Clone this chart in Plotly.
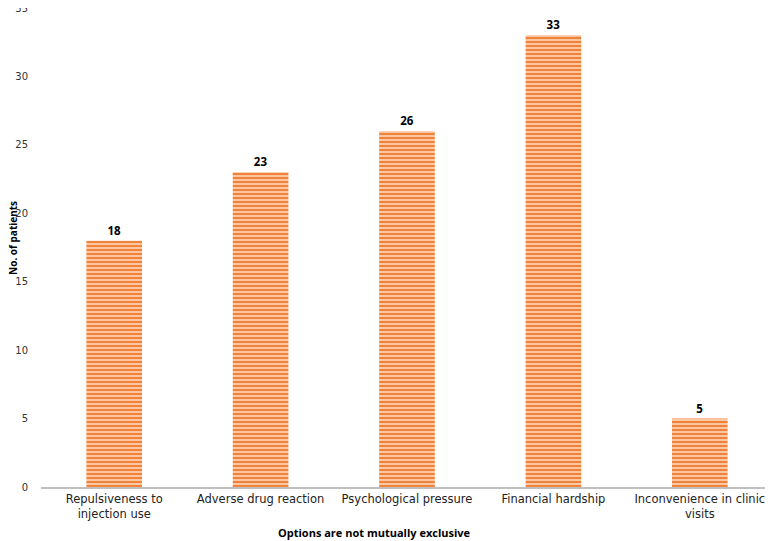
import plotly.graph_objects as go

categories = ["Repulsiveness to<br>injection use", "Adverse drug reaction",
              "Psychological pressure", "Financial hardship",
              "Inconvenience in clinic<br>visits"]
patients = [18, 23, 26, 33, 5]
y_ticks = [0, 5, 10, 15, 20, 25, 30, 35]
x_title = "Options are not mutually exclusive"
y_title = "No. of patients"

fig = go.Figure()
fig.add_trace(go.Bar(
    x=list(range(len(categories))), y=patients,
    width=0.38,
    marker=dict(color="#FCCFAD", line=dict(width=0),
                pattern=dict(shape="-", fgcolor="#F0823A", bgcolor="#FCCFAD",
                             size=4, solidity=0.55, fillmode="replace")),
    text=[str(v) for v in patients], textposition="outside",
    textfont=dict(family="Open Sans", size=11.5, color="black", weight="bold"),
    cliponaxis=False,
))

title_font = dict(size=11, family="Open Sans", weight="bold", color="black")
fig.add_annotation(text=x_title, xref="paper", yref="paper", x=0.456, y=0,
                   yanchor="middle", yshift=-45, showarrow=False, font=title_font)
fig.add_annotation(text=y_title, xref="paper", yref="paper", x=0, y=0.52,
                   xanchor="center", xshift=-28, textangle=-90,
                   showarrow=False, font=dict(title_font, size=10))

# page body has an 8px margin, so the figure is sized to the visible area
fig.update_layout(
    width=765, height=533,
    margin=dict(l=33, r=0, t=0, b=54),
    paper_bgcolor="white", plot_bgcolor="white",
    showlegend=False,
    font=dict(family="DejaVu Sans", size=12, color="#222"),
    xaxis=dict(
        tickmode="array", tickvals=list(range(len(categories))), ticktext=categories,
        range=[-0.5, 4.5], showgrid=False, zeroline=False, automargin=False,
        showline=True, linecolor="#BFBFBF", linewidth=2, ticks="",
        ticklabeloverflow="allow",
        tickfont=dict(size=11.5, family="DejaVu Sans", color="#222"),
    ),
    yaxis=dict(
        range=[0, 35], tickvals=y_ticks, showgrid=False, zeroline=False,
        showline=False, ticks="", automargin=False, ticklabeloverflow="allow",
        ticklabelstandoff=12,
        tickfont=dict(size=10, family="DejaVu Sans", color="#333"),
    ),
)

fig.write_html("out.html")
